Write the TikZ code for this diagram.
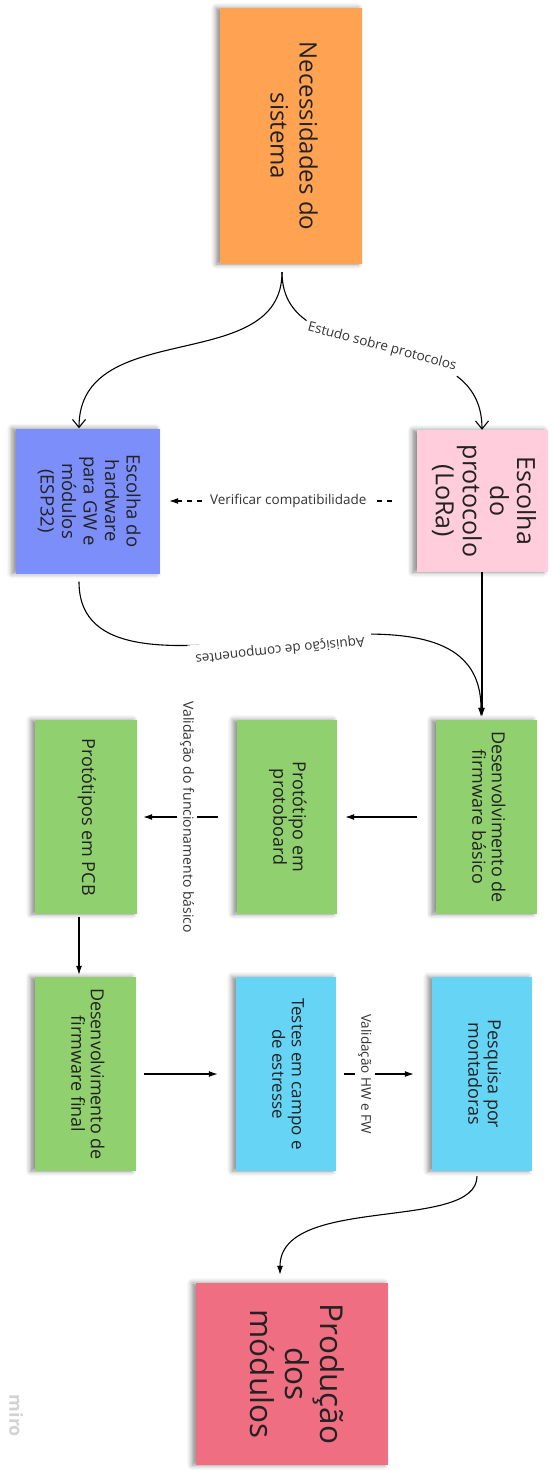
\documentclass[tikz,border=0pt]{standalone}
\usepackage{fontspec}
\setmainfont{Open Sans}
\usepackage{graphicx}
\usetikzlibrary{positioning,arrows.meta,shadows.blur}

\definecolor{notetext}{RGB}{34,34,34}
\definecolor{linkgray}{RGB}{51,51,51}
\definecolor{orangenote}{RGB}{255,163,82}
\definecolor{bluenote}{RGB}{124,142,250}
\definecolor{pinknote}{RGB}{255,205,220}
\definecolor{greennote}{RGB}{145,208,110}
\definecolor{cyannote}{RGB}{102,212,245}
\definecolor{rednote}{RGB}{240,110,130}

\newcommand{\vtext}[1]{\rotatebox{-90}{\begin{tabular}{@{}c@{}}#1\end{tabular}}}

\begin{document}
\begin{tikzpicture}
    [
    x=1pt, y=-1pt,
    note/.style={fill=#1, inner sep=0pt, text=notetext,
      blur shadow={shadow xshift=-4pt, shadow yshift=0pt, shadow blur radius=5pt, shadow opacity=45}},
    gfont/.style={font=\fontsize{18}{19.5}\selectfont},
    link/.style={line width=1.1pt, -{Latex[length=9pt,width=6pt]}},
    openlink/.style={line width=1.1pt, -{Straight Barb[length=8pt,width=13pt]}},
    lbl/.style={fill=white, inner sep=3pt, text=linkgray, font=\fontsize{13.5}{16}\selectfont},
    ]
    \useasboundingbox (0,0) rectangle (552,1470);

    % sticky notes
    \node (nec) at (291,136) [note=orangenote, minimum width=142pt, minimum height=256pt, font=\fontsize{24}{29}\selectfont] {\vtext{Necessidades do\\sistema}};
    \node (hw) at (88,501) [note=bluenote, minimum width=144pt, minimum height=145pt, font=\fontsize{18.5}{21.5}\selectfont] {\vtext{Escolha do\\hardware\\para GW e\\módulos\\(ESP32)}};
    \node (prot) at (482,501) [note=pinknote, minimum width=131pt, minimum height=142pt, font=\fontsize{25}{27}\selectfont] {\vtext{Escolha\\do\\protocolo\\(LoRa)}};

    \node (fwb) at (486,817) [note=greennote, minimum width=101pt, minimum height=194pt, gfont] {\vtext{Desenvolvimento de\\firmware básico}};
    \node (proto) at (287,817) [note=greennote, minimum width=100pt, minimum height=194pt, gfont] {\vtext{Protótipo em\\protoboard}};
    \node (pcb) at (86,817) [note=greennote, minimum width=102pt, minimum height=194pt, gfont] {\vtext{Protótipos em PCB}};

    \node (fwf) at (85,1074) [note=greennote, minimum width=101pt, minimum height=194pt, gfont] {\vtext{Desenvolvimento de\\firmware final}};
    \node (teste) at (286,1074) [note=cyannote, minimum width=100pt, minimum height=194pt, font=\fontsize{17}{19.5}\selectfont] {\vtext{Testes em campo e\\de estresse}};
    \node (mont) at (482,1074) [note=cyannote, minimum width=100pt, minimum height=194pt, gfont] {\vtext{Pesquisa por\\montadoras}};

    \node (prod) at (292,1374) [note=rednote, minimum width=192pt, minimum height=182pt, font=\fontsize{31.5}{35}\selectfont] {\vtext{Produção\\dos\\módulos}};

    \node (wm) at (16,1416) [text=gray!35, font=\bfseries\fontsize{18}{20}\selectfont, rotate=-90] {miro};

    % connectors
    \draw [openlink, shorten <=8pt] ([xshift=-9pt]nec.south) to [out=-90, in=90, looseness=1.1] ([xshift=-9pt]hw.north);
    \draw [openlink, shorten <=8pt] ([xshift=-9pt]nec.south) to [out=-90, in=90, looseness=1.1]
      node [lbl, sloped, inner ysep=8pt] (estudo) {Estudo sobre protocolos} (prot.north);

    \draw [link, dash pattern=on 5pt off 5pt, shorten <=24pt, shorten >=9pt] (prot) to node [lbl, inner xsep=8pt] (verif) {Verificar compatibilidade} (hw);

    \draw [link, shorten <=8pt, shorten >=3pt] ([xshift=-9pt]hw.south) to [out=-90, in=90, out distance=163pt, in distance=182pt]
      node [lbl, yshift=-10pt, rotate=186, inner sep=7pt] (aquis) {Aquisição de componentes} ([xshift=-5pt]fwb.north);
    \draw [link, shorten >=3pt] (prot.south) to (prot.south |- fwb.north);

    \draw [link, shorten <=18pt, shorten >=8pt] (fwb) to (proto);
    \draw [link, shorten <=19pt, shorten >=6pt] (proto) to node [lbl, rotate=-90, font=\fontsize{14}{16}\selectfont] (valid1) {Validação do funcionamento básico} (pcb);
    \draw [link, shorten <=3pt, shorten >=2pt] ([xshift=-7pt]pcb.south) to ([xshift=-7pt]pcb.south |- fwf.north);

    \draw [link, shorten <=8pt, shorten >=18pt] (fwf) to (teste);
    \draw [link, shorten <=8pt, shorten >=18pt] (teste) to node [lbl, rotate=-90, pos=0.3] (valid2) {Validação HW e FW} (mont);

    \draw [link, shorten <=5pt, shorten >=8pt] ([xshift=-5pt]mont.south) to [out=-90, in=90, out distance=61pt, in distance=89pt] ([xshift=-12pt]prod.north);
\end{tikzpicture}
\end{document}
